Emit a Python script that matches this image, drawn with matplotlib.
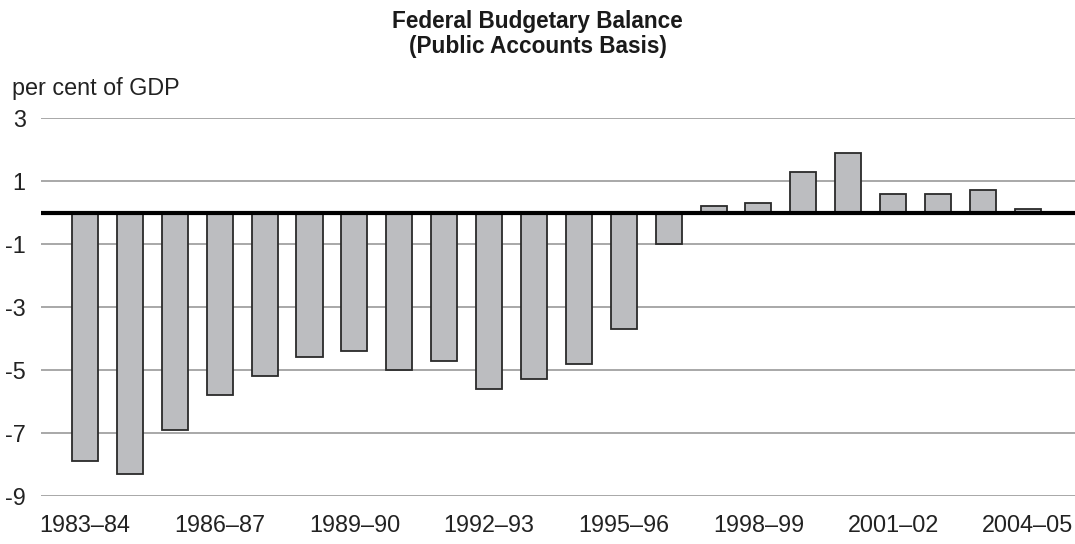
import matplotlib
matplotlib.use("Agg")
import matplotlib.pyplot as plt

years = ["1983–84", "1984–85", "1985–86", "1986–87", "1987–88", "1988–89",
         "1989–90", "1990–91", "1991–92", "1992–93", "1993–94", "1994–95",
         "1995–96", "1996–97", "1997–98", "1998–99", "1999–00", "2000–01",
         "2001–02", "2002–03", "2003–04", "2004–05"]
balance = [-7.9, -8.3, -6.9, -5.8, -5.2, -4.6, -4.4, -5.0, -4.7, -5.6, -5.3,
           -4.8, -3.7, -1.0, 0.2, 0.3, 1.3, 1.9, 0.6, 0.6, 0.7, 0.1]
yticks = [3, 1, -1, -3, -5, -7, -9]

plt.rcParams['font.family'] = ['Liberation Sans', 'DejaVu Sans']

fig = plt.figure(figsize=(10.75, 5.44), dpi=100)
ax = fig.add_axes([41/1075, 1-496/544, 1-41/1075, (496-118)/544])

x = list(range(len(years)))
ax.bar(x, balance, width=0.58, color="#bcbdc0", edgecolor="#2a2a2a",
       linewidth=1.3, zorder=3)
ax.axhline(0, color="black", linewidth=3, zorder=4)

ax.set_ylim(-9, 3)
ax.set_xlim(-0.98, 22.05)
ax.set_yticks(yticks)
ax.set_yticklabels([str(v) for v in yticks])
for v in yticks:
    ax.axhline(v, color="#9a9a9a", linewidth=1.2, zorder=1)

ax.set_xticks(x[::3])
ax.set_xticklabels(years[::3])
ax.tick_params(axis='both', length=0, labelsize=16.8, colors="#222222")
ax.tick_params(axis='y', pad=11)
ax.tick_params(axis='x', pad=13)
for s in ax.spines.values():
    s.set_visible(False)

fig.text(0.5, 1-34/544, "Federal Budgetary Balance\n(Public Accounts Basis)",
         ha="center", va="center", fontsize=16.3, fontweight="bold",
         color="#1a1a1a", linespacing=1.15)
fig.text(12/1075, 1-88/544, "per cent of GDP", ha="left", va="center",
         fontsize=16.8, color="#222222")

fig.savefig("out.png", dpi=100)
